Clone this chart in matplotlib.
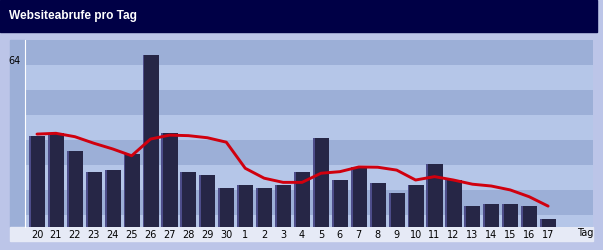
import matplotlib.pyplot as plt
import numpy as np
from matplotlib.patches import Rectangle

# Daten
tage = ['20', '21', '22', '23', '24', '25', '26', '27', '28', '29', '30',
        '1', '2', '3', '4', '5', '6', '7', '8', '9', '10', '11', '12',
        '13', '14', '15', '16', '17']
abrufe = [35, 36, 29, 21, 22, 28, 66, 36, 21, 20, 15, 16, 15, 16,
          21, 34, 18, 23, 17, 13, 16, 24, 18, 8, 9, 9, 8, 3]
trend = [35.6, 35.9, 34.6, 32.1, 29.9, 27.3, 33.7, 35.2, 35.0, 34.2, 32.5,
         22.5, 18.7, 17.1, 17.1, 20.6, 21.2, 23.0, 22.9, 21.8, 18.0, 19.3,
         18.0, 16.4, 15.7, 14.2, 11.6, 8.0]

W, H = 603, 250
bg = '#bcc5e8'
band_dark = '#9cafd7'
band_light = '#b5c6e8'

fig = plt.figure(figsize=(W / 100, H / 100), dpi=100)
fig.patch.set_facecolor(bg)

def px(x0, y0, x1, y1):
    # Pixel-Rechteck -> Figure-Koordinaten
    return [x0 / W, 1 - y1 / H, (x1 - x0) / W, (y1 - y0) / H]

# Titelleiste
fig.patches.append(Rectangle((0, 1 - 32 / H), 597 / W, 32 / H,
                             transform=fig.transFigure, color='#000046', zorder=0))
fig.text(9 / W, 1 - 16 / H, 'Websiteabrufe pro Tag', color='white',
         fontsize=8.6, fontweight='bold', family='Liberation Sans',
         va='center', ha='left')

# linke Spalte und Beschriftungsleiste
fig.patches.append(Rectangle((10 / W, 1 - 227 / H), 15 / W, 187 / H,
                             transform=fig.transFigure, color=band_dark, zorder=0))
fig.patches.append(Rectangle((10 / W, 1 - 241 / H), 583 / W, 14 / H,
                             transform=fig.transFigure, color='#e6eaf6', zorder=0))

ax = fig.add_axes(px(25, 40, 593, 227))
ax.set_zorder(2)
ax.set_facecolor(band_light)

step = 18.93
x = np.arange(len(tage))
ax.set_xlim((25 - 37) / step, (593 - 37) / step)
ymax = 187 / 2.61
ax.set_ylim(0, ymax)

# Streifen (25 px hoch)
for top in [40, 90, 140, 190]:
    ax.axhspan((227 - top - 25) / 2.61, (227 - top) / 2.61,
               color=band_dark, lw=0, zorder=0)

bw = 0.85
ax.bar(x, abrufe, width=bw, color='#262646', zorder=2)
ax.bar(x - bw / 2, abrufe, width=0.1, align='edge', color='#4d4d8a', zorder=3)

ax.plot(x, trend, color='#d0000e', lw=2.1, solid_joinstyle='round',
        solid_capstyle='round', zorder=4)

for s in ['top', 'right', 'bottom']:
    ax.spines[s].set_visible(False)
ax.spines['left'].set_color('white')
ax.spines['left'].set_linewidth(0.8)

ax.set_xticks(x)
ax.set_xticklabels(tage, fontsize=7, color='black')
ax.set_yticks([64])
ax.set_yticklabels(['64'], fontsize=7)
ax.tick_params(axis='both', length=0)
ax.tick_params(axis='x', pad=2)
ax.tick_params(axis='y', pad=3)
ax.text(1.0, -0.005, 'Tag', transform=ax.transAxes, ha='right', va='top',
        fontsize=7)

fig.savefig('out.png', dpi=100, facecolor=bg)
